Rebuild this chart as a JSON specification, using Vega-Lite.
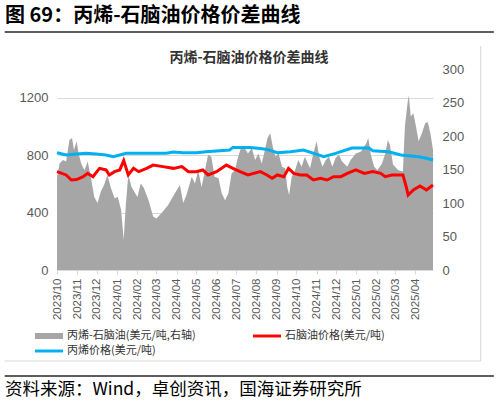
{
  "$schema": "https://vega.github.io/schema/vega-lite/v6.json",
  "description": "丙烯-石脑油价格价差曲线",
  "autosize": "none",
  "width": 376,
  "height": 201,
  "padding": {"left": 57, "top": 69, "right": 66, "bottom": 134},
  "background": "white",
  "datasets": {
    "spread": [
      {"date": "2023-10-01", "value": 138}, {"date": "2023-10-05", "value": 159}, {"date": "2023-10-10", "value": 164},
      {"date": "2023-10-15", "value": 162}, {"date": "2023-10-20", "value": 194}, {"date": "2023-10-24", "value": 197},
      {"date": "2023-10-27", "value": 179}, {"date": "2023-10-31", "value": 192}, {"date": "2023-11-03", "value": 174},
      {"date": "2023-11-07", "value": 159}, {"date": "2023-11-12", "value": 149}, {"date": "2023-11-17", "value": 162},
      {"date": "2023-11-22", "value": 137}, {"date": "2023-11-27", "value": 109}, {"date": "2023-12-02", "value": 100},
      {"date": "2023-12-07", "value": 117}, {"date": "2023-12-12", "value": 127}, {"date": "2023-12-17", "value": 142},
      {"date": "2023-12-22", "value": 124}, {"date": "2023-12-28", "value": 107}, {"date": "2024-01-02", "value": 109},
      {"date": "2024-01-07", "value": 90}, {"date": "2024-01-11", "value": 45}, {"date": "2024-01-14", "value": 94},
      {"date": "2024-01-18", "value": 142}, {"date": "2024-01-23", "value": 124}, {"date": "2024-02-01", "value": 109},
      {"date": "2024-02-06", "value": 129}, {"date": "2024-02-11", "value": 122}, {"date": "2024-02-18", "value": 104},
      {"date": "2024-02-25", "value": 80}, {"date": "2024-03-01", "value": 77}, {"date": "2024-03-09", "value": 85},
      {"date": "2024-03-19", "value": 97}, {"date": "2024-03-29", "value": 114}, {"date": "2024-04-06", "value": 127},
      {"date": "2024-04-11", "value": 100}, {"date": "2024-04-16", "value": 112}, {"date": "2024-04-24", "value": 139},
      {"date": "2024-04-29", "value": 129}, {"date": "2024-05-04", "value": 149}, {"date": "2024-05-09", "value": 124},
      {"date": "2024-05-14", "value": 147}, {"date": "2024-05-19", "value": 172}, {"date": "2024-05-24", "value": 169},
      {"date": "2024-05-29", "value": 139}, {"date": "2024-06-04", "value": 137}, {"date": "2024-06-09", "value": 114},
      {"date": "2024-06-14", "value": 104}, {"date": "2024-06-19", "value": 114}, {"date": "2024-06-24", "value": 144},
      {"date": "2024-06-29", "value": 149}, {"date": "2024-07-04", "value": 169}, {"date": "2024-07-09", "value": 184},
      {"date": "2024-07-14", "value": 182}, {"date": "2024-07-19", "value": 174}, {"date": "2024-07-25", "value": 182},
      {"date": "2024-07-30", "value": 164}, {"date": "2024-08-04", "value": 174}, {"date": "2024-08-09", "value": 159},
      {"date": "2024-08-14", "value": 179}, {"date": "2024-08-18", "value": 197}, {"date": "2024-08-22", "value": 204},
      {"date": "2024-08-26", "value": 184}, {"date": "2024-08-30", "value": 169}, {"date": "2024-09-04", "value": 174},
      {"date": "2024-09-09", "value": 154}, {"date": "2024-09-14", "value": 152}, {"date": "2024-09-17", "value": 124},
      {"date": "2024-09-20", "value": 112}, {"date": "2024-09-24", "value": 139}, {"date": "2024-09-29", "value": 149},
      {"date": "2024-10-04", "value": 164}, {"date": "2024-10-09", "value": 154}, {"date": "2024-10-14", "value": 169},
      {"date": "2024-10-22", "value": 152}, {"date": "2024-10-27", "value": 174}, {"date": "2024-11-01", "value": 192},
      {"date": "2024-11-05", "value": 169}, {"date": "2024-11-10", "value": 154}, {"date": "2024-11-15", "value": 164},
      {"date": "2024-11-20", "value": 169}, {"date": "2024-11-25", "value": 154}, {"date": "2024-11-30", "value": 167},
      {"date": "2024-12-05", "value": 172}, {"date": "2024-12-10", "value": 162}, {"date": "2024-12-18", "value": 154},
      {"date": "2024-12-23", "value": 164}, {"date": "2024-12-31", "value": 174}, {"date": "2025-01-08", "value": 177},
      {"date": "2025-01-16", "value": 189}, {"date": "2025-01-19", "value": 197}, {"date": "2025-01-23", "value": 172},
      {"date": "2025-01-28", "value": 154}, {"date": "2025-02-02", "value": 149}, {"date": "2025-02-09", "value": 159},
      {"date": "2025-02-14", "value": 174}, {"date": "2025-02-18", "value": 194}, {"date": "2025-02-21", "value": 187},
      {"date": "2025-02-26", "value": 157}, {"date": "2025-03-06", "value": 149}, {"date": "2025-03-13", "value": 147},
      {"date": "2025-03-16", "value": 214}, {"date": "2025-03-20", "value": 249}, {"date": "2025-03-22", "value": 261},
      {"date": "2025-03-25", "value": 229}, {"date": "2025-03-29", "value": 234}, {"date": "2025-04-02", "value": 214},
      {"date": "2025-04-06", "value": 192}, {"date": "2025-04-11", "value": 204}, {"date": "2025-04-16", "value": 219},
      {"date": "2025-04-20", "value": 221}, {"date": "2025-04-24", "value": 204}, {"date": "2025-04-28", "value": 179}
    ],
    "prices": [
      {"date": "2023-10-01", "series": "石脑油价格(美元/吨)", "value": 685},
      {"date": "2023-10-15", "series": "石脑油价格(美元/吨)", "value": 662},
      {"date": "2023-10-23", "series": "石脑油价格(美元/吨)", "value": 627},
      {"date": "2023-10-31", "series": "石脑油价格(美元/吨)", "value": 630},
      {"date": "2023-11-10", "series": "石脑油价格(美元/吨)", "value": 650},
      {"date": "2023-11-17", "series": "石脑油价格(美元/吨)", "value": 673},
      {"date": "2023-11-25", "series": "石脑油价格(美元/吨)", "value": 650},
      {"date": "2023-12-05", "series": "石脑油价格(美元/吨)", "value": 708},
      {"date": "2023-12-15", "series": "石脑油价格(美元/吨)", "value": 697},
      {"date": "2023-12-20", "series": "石脑油价格(美元/吨)", "value": 662},
      {"date": "2023-12-28", "series": "石脑油价格(美元/吨)", "value": 685},
      {"date": "2024-01-05", "series": "石脑油价格(美元/吨)", "value": 697},
      {"date": "2024-01-11", "series": "石脑油价格(美元/吨)", "value": 762},
      {"date": "2024-01-18", "series": "石脑油价格(美元/吨)", "value": 662},
      {"date": "2024-01-26", "series": "石脑油价格(美元/吨)", "value": 708},
      {"date": "2024-02-03", "series": "石脑油价格(美元/吨)", "value": 685},
      {"date": "2024-02-15", "series": "石脑油价格(美元/吨)", "value": 708},
      {"date": "2024-02-25", "series": "石脑油价格(美元/吨)", "value": 731},
      {"date": "2024-03-11", "series": "石脑油价格(美元/吨)", "value": 720},
      {"date": "2024-03-27", "series": "石脑油价格(美元/吨)", "value": 708},
      {"date": "2024-04-09", "series": "石脑油价格(美元/吨)", "value": 720},
      {"date": "2024-04-19", "series": "石脑油价格(美元/吨)", "value": 685},
      {"date": "2024-05-01", "series": "石脑油价格(美元/吨)", "value": 685},
      {"date": "2024-05-11", "series": "石脑油价格(美元/吨)", "value": 697},
      {"date": "2024-05-19", "series": "石脑油价格(美元/吨)", "value": 662},
      {"date": "2024-06-01", "series": "石脑油价格(美元/吨)", "value": 685},
      {"date": "2024-06-16", "series": "石脑油价格(美元/吨)", "value": 731},
      {"date": "2024-06-26", "series": "石脑油价格(美元/吨)", "value": 708},
      {"date": "2024-07-07", "series": "石脑油价格(美元/吨)", "value": 685},
      {"date": "2024-07-19", "series": "石脑油价格(美元/吨)", "value": 662},
      {"date": "2024-08-07", "series": "石脑油价格(美元/吨)", "value": 685},
      {"date": "2024-08-17", "series": "石脑油价格(美元/吨)", "value": 662},
      {"date": "2024-08-25", "series": "石脑油价格(美元/吨)", "value": 639},
      {"date": "2024-09-02", "series": "石脑油价格(美元/吨)", "value": 662},
      {"date": "2024-09-12", "series": "石脑油价格(美元/吨)", "value": 650},
      {"date": "2024-09-19", "series": "石脑油价格(美元/吨)", "value": 708},
      {"date": "2024-09-27", "series": "石脑油价格(美元/吨)", "value": 673},
      {"date": "2024-10-07", "series": "石脑油价格(美元/吨)", "value": 662},
      {"date": "2024-10-17", "series": "石脑油价格(美元/吨)", "value": 662},
      {"date": "2024-10-27", "series": "石脑油价格(美元/吨)", "value": 627},
      {"date": "2024-11-07", "series": "石脑油价格(美元/吨)", "value": 639},
      {"date": "2024-11-17", "series": "石脑油价格(美元/吨)", "value": 627},
      {"date": "2024-11-27", "series": "石脑油价格(美元/吨)", "value": 650},
      {"date": "2024-12-08", "series": "石脑油价格(美元/吨)", "value": 650},
      {"date": "2024-12-18", "series": "石脑油价格(美元/吨)", "value": 673},
      {"date": "2024-12-31", "series": "石脑油价格(美元/吨)", "value": 697},
      {"date": "2025-01-13", "series": "石脑油价格(美元/吨)", "value": 673},
      {"date": "2025-01-26", "series": "石脑油价格(美元/吨)", "value": 685},
      {"date": "2025-02-07", "series": "石脑油价格(美元/吨)", "value": 673},
      {"date": "2025-02-14", "series": "石脑油价格(美元/吨)", "value": 650},
      {"date": "2025-02-24", "series": "石脑油价格(美元/吨)", "value": 662},
      {"date": "2025-03-13", "series": "石脑油价格(美元/吨)", "value": 662},
      {"date": "2025-03-18", "series": "石脑油价格(美元/吨)", "value": 580},
      {"date": "2025-03-21", "series": "石脑油价格(美元/吨)", "value": 522},
      {"date": "2025-03-29", "series": "石脑油价格(美元/吨)", "value": 557},
      {"date": "2025-04-08", "series": "石脑油价格(美元/吨)", "value": 585},
      {"date": "2025-04-18", "series": "石脑油价格(美元/吨)", "value": 557},
      {"date": "2025-04-28", "series": "石脑油价格(美元/吨)", "value": 592},
      {"date": "2023-10-01", "series": "丙烯价格(美元/吨)", "value": 817},
      {"date": "2023-10-15", "series": "丙烯价格(美元/吨)", "value": 801},
      {"date": "2023-10-31", "series": "丙烯价格(美元/吨)", "value": 808},
      {"date": "2023-11-14", "series": "丙烯价格(美元/吨)", "value": 813},
      {"date": "2023-11-30", "series": "丙烯价格(美元/吨)", "value": 808},
      {"date": "2023-12-15", "series": "丙烯价格(美元/吨)", "value": 801},
      {"date": "2023-12-26", "series": "丙烯价格(美元/吨)", "value": 789},
      {"date": "2024-01-05", "series": "丙烯价格(美元/吨)", "value": 801},
      {"date": "2024-01-15", "series": "丙烯价格(美元/吨)", "value": 813},
      {"date": "2024-02-06", "series": "丙烯价格(美元/吨)", "value": 813},
      {"date": "2024-02-25", "series": "丙烯价格(美元/吨)", "value": 813},
      {"date": "2024-03-16", "series": "丙烯价格(美元/吨)", "value": 813},
      {"date": "2024-03-27", "series": "丙烯价格(美元/吨)", "value": 822},
      {"date": "2024-04-11", "series": "丙烯价格(美元/吨)", "value": 817},
      {"date": "2024-05-01", "series": "丙烯价格(美元/吨)", "value": 817},
      {"date": "2024-05-16", "series": "丙烯价格(美元/吨)", "value": 824},
      {"date": "2024-06-06", "series": "丙烯价格(美元/吨)", "value": 831},
      {"date": "2024-06-21", "series": "丙烯价格(美元/吨)", "value": 836},
      {"date": "2024-06-26", "series": "丙烯价格(美元/吨)", "value": 854},
      {"date": "2024-07-22", "series": "丙烯价格(美元/吨)", "value": 854},
      {"date": "2024-08-07", "series": "丙烯价格(美元/吨)", "value": 847},
      {"date": "2024-08-17", "series": "丙烯价格(美元/吨)", "value": 840},
      {"date": "2024-09-02", "series": "丙烯价格(美元/吨)", "value": 817},
      {"date": "2024-09-22", "series": "丙烯价格(美元/吨)", "value": 824},
      {"date": "2024-10-12", "series": "丙烯价格(美元/吨)", "value": 836},
      {"date": "2024-11-12", "series": "丙烯价格(美元/吨)", "value": 789},
      {"date": "2024-11-30", "series": "丙烯价格(美元/吨)", "value": 812},
      {"date": "2024-12-25", "series": "丙烯价格(美元/吨)", "value": 850},
      {"date": "2025-01-20", "series": "丙烯价格(美元/吨)", "value": 850},
      {"date": "2025-01-26", "series": "丙烯价格(美元/吨)", "value": 831},
      {"date": "2025-02-19", "series": "丙烯价格(美元/吨)", "value": 824},
      {"date": "2025-03-10", "series": "丙烯价格(美元/吨)", "value": 801},
      {"date": "2025-04-06", "series": "丙烯价格(美元/吨)", "value": 789},
      {"date": "2025-04-18", "series": "丙烯价格(美元/吨)", "value": 778},
      {"date": "2025-04-28", "series": "丙烯价格(美元/吨)", "value": 766}
    ],
    "header": [{"text": "图 69：丙烯-石脑油价格价差曲线"}],
    "charttitle": [{"text": "丙烯-石脑油价格价差曲线"}],
    "footer": [{"text": "资料来源：Wind，卓创资讯，国海证券研究所"}]
  },
  "layer": [
    {
      "data": {"name": "spread"},
      "mark": {"type": "area", "interpolate": "linear", "opacity": 1},
      "encoding": {
        "x": {
          "field": "date",
          "type": "temporal",
          "scale": {
            "type": "utc",
            "nice": false,
            "domain": [
              {"year": 2023, "month": 10, "date": 1, "utc": true},
              {"year": 2025, "month": 4, "date": 28, "utc": true}
            ]
          },
          "axis": {
            "title": null,
            "format": "%Y/%m",
            "tickCount": {"interval": "month", "step": 1},
            "labelAngle": 270,
            "labelFont": "Liberation Sans",
            "labelFontSize": 11.5,
            "labelColor": "#595959",
            "labelPadding": 4,
            "labelOverlap": false,
            "labelFlush": false,
            "domainColor": "#d9d9d9",
            "tickColor": "#d9d9d9",
            "tickSize": 4,
            "grid": false
          }
        },
        "y": {
          "field": "value",
          "type": "quantitative",
          "scale": {"domain": [0, 300], "nice": false},
          "axis": {
            "orient": "right",
            "title": null,
            "values": [0, 50, 100, 150, 200, 250, 300],
            "format": "d",
            "labelFont": "Liberation Sans",
            "labelFontSize": 13,
            "labelColor": "#595959",
            "labelPadding": 9,
            "domain": false,
            "ticks": false,
            "grid": false
          }
        },
        "color": {
          "datum": "丙烯-石脑油(美元/吨,右轴)",
          "type": "nominal",
          "scale": {
            "domain": ["丙烯-石脑油(美元/吨,右轴)", "石脑油价格(美元/吨)", "丙烯价格(美元/吨)"],
            "range": ["#a6a6a6", "#ff0000", "#00b0f0"]
          },
          "legend": {
            "title": null,
            "orient": "none",
            "legendX": -22,
            "legendY": 260,
            "direction": "horizontal",
            "columns": 2,
            "columnPadding": 57,
            "rowPadding": 3,
            "symbolSize": 196,
            "labelOffset": 18,
            "labelFont": "Noto Sans CJK SC",
            "labelFontSize": 11,
            "labelColor": "#333333",
            "labelLimit": 300,
            "encode": {
              "symbols": {
                "update": {
                  "shape": {"signal": "datum.value === '丙烯-石脑油(美元/吨,右轴)' ? 'M-1,-0.43H3V0.43H-1Z' : 'M-1,-0.21H3V0.21H-1Z'"},
                  "fill": {"scale": "color", "field": "value"},
                  "stroke": {"value": "transparent"},
                  "strokeWidth": {"value": 0},
                  "opacity": {"value": 1}
                }
              }
            }
          }
        }
      }
    },
    {
      "layer": [
        {
          "data": {"name": "prices"},
          "mark": {"type": "line", "strokeWidth": 3, "interpolate": "linear"},
          "encoding": {
            "x": {"field": "date", "type": "temporal"},
            "y": {
              "field": "value",
              "type": "quantitative",
              "scale": {"domain": [0, 1400], "nice": false},
              "axis": {
                "orient": "left",
                "title": null,
                "values": [0, 200, 400, 600, 800, 1000, 1200, 1400],
                "format": "d",
                "labelFont": "Liberation Sans",
                "labelFontSize": 13,
                "labelColor": "#595959",
                "labelPadding": 9,
                "domain": false,
                "ticks": false,
                "grid": true,
                "gridColor": "#d9d9d9",
                "gridWidth": 1
              }
            },
            "color": {
              "field": "series",
              "type": "nominal",
              "legend": {
                "title": null,
                "orient": "none",
                "legendX": -22,
                "legendY": 260,
                "direction": "horizontal",
                "columns": 2,
                "columnPadding": 57,
                "rowPadding": 3,
                "symbolSize": 196,
                "labelOffset": 18,
                "labelFont": "Noto Sans CJK SC",
                "labelFontSize": 11,
                "labelColor": "#333333",
                "labelLimit": 300,
                "encode": {
                  "symbols": {
                    "update": {
                      "shape": {"signal": "datum.value === '丙烯-石脑油(美元/吨,右轴)' ? 'M-1,-0.43H3V0.43H-1Z' : 'M-1,-0.21H3V0.21H-1Z'"},
                      "fill": {"scale": "color", "field": "value"},
                      "stroke": {"value": "transparent"},
                      "strokeWidth": {"value": 0},
                      "opacity": {"value": 1}
                    }
                  }
                }
              }
            }
          }
        },
        {
          "data": {"name": "header"},
          "mark": {"type": "rule", "color": "#262626", "strokeWidth": 1.5, "clip": false},
          "encoding": {
            "x": {"datum": {"year": 2023, "month": 7, "date": 13, "utc": true}, "type": "temporal"},
            "x2": {"datum": {"year": 2025, "month": 7, "date": 30, "utc": true}},
            "y": {"datum": 1658, "type": "quantitative"}
          }
        },
        {
          "data": {"name": "footer"},
          "mark": {"type": "rule", "color": "#262626", "strokeWidth": 1.5, "clip": false},
          "encoding": {
            "x": {"datum": {"year": 2023, "month": 7, "date": 13, "utc": true}, "type": "temporal"},
            "x2": {"datum": {"year": 2025, "month": 7, "date": 30, "utc": true}},
            "y": {"datum": -738, "type": "quantitative"}
          }
        },
        {
          "data": {"name": "footer"},
          "mark": {"type": "rule", "color": "#d6d6d6", "strokeWidth": 1, "clip": false},
          "encoding": {
            "x": {"datum": {"year": 2023, "month": 7, "date": 13, "utc": true}, "type": "temporal"},
            "x2": {"datum": {"year": 2025, "month": 7, "date": 10, "utc": true}},
            "y": {"datum": -634, "type": "quantitative"}
          }
        },
        {
          "data": {"name": "footer"},
          "mark": {"type": "rule", "color": "#d6d6d6", "strokeWidth": 1, "clip": false},
          "encoding": {
            "x": {"datum": {"year": 2025, "month": 7, "date": 10, "utc": true}, "type": "temporal"},
            "y": {"datum": 1560, "type": "quantitative"},
            "y2": {"datum": -634}
          }
        }
      ]
    },
    {
      "data": {"name": "charttitle"},
      "mark": {"type": "text", "align": "center", "baseline": "middle", "font": "Noto Sans CJK SC", "fontSize": 14, "fontWeight": "bold", "color": "#333333"},
      "encoding": {
        "x": {"value": 192},
        "y": {"value": -11},
        "text": {"field": "text"}
      }
    },
    {
      "data": {"name": "header"},
      "mark": {"type": "text", "align": "left", "baseline": "middle", "font": "Noto Sans CJK SC", "fontSize": 20, "fontWeight": "bold", "color": "#000000"},
      "encoding": {
        "x": {"value": -52},
        "y": {"value": -53},
        "text": {"field": "text"}
      }
    },
    {
      "data": {"name": "footer"},
      "mark": {"type": "text", "align": "left", "baseline": "middle", "font": "Noto Sans CJK SC", "fontSize": 17.5, "color": "#000000"},
      "encoding": {
        "x": {"value": -52},
        "y": {"value": 321},
        "text": {"field": "text"}
      }
    }
  ],
  "resolve": {"scale": {"y": "independent"}},
  "config": {
    "view": {"stroke": null},
    "font": "Noto Sans CJK SC"
  }
}
